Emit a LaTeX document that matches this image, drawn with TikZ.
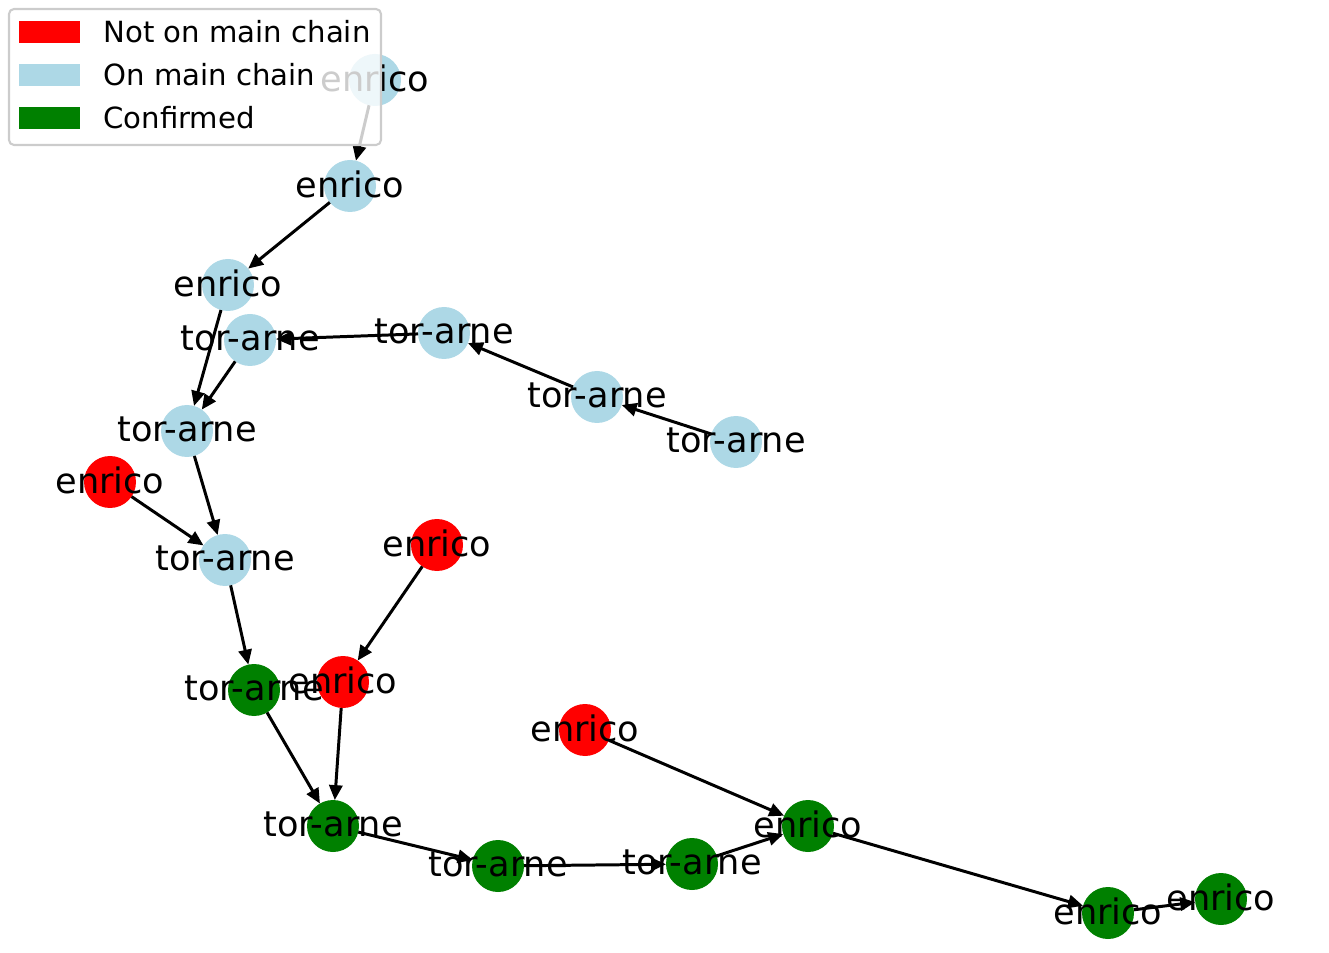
\documentclass[tikz,border=0pt]{standalone}
\usepackage{fontspec}
\setmainfont{DejaVu Sans}
\usetikzlibrary{arrows.meta}
\definecolor{chainblue}{HTML}{ADD8E6}
\definecolor{confgreen}{HTML}{008000}
\begin{document}
\begin{tikzpicture}[dot/.style={circle,minimum size=1.04cm,inner sep=0pt,outer sep=0pt},
  lbl/.style={inner sep=0pt,yshift=0.03cm,font=\fontsize{20pt}{23pt}\selectfont},
  edge/.style={line width=1.7pt,-{Triangle[length=8.5pt,width=7.5pt]}},
  key/.style={rectangle,minimum width=1.22cm,minimum height=0.44cm,inner sep=0pt},
  keytext/.style={anchor=west,inner sep=0pt,font=\fontsize{16.6pt}{19pt}\selectfont}]
  \useasboundingbox (0,0) rectangle (26.58,19.04);

  \node[dot,fill=chainblue] (e1) at (7.50, 17.44) {};
  \node[dot,fill=chainblue] (e2) at (7.00, 15.32) {};
  \node[dot,fill=chainblue] (e3) at (4.56, 13.34) {};
  \node[dot,fill=chainblue] (t4) at (5.00, 12.24) {};
  \node[dot,fill=chainblue] (t5) at (8.88, 12.38) {};
  \node[dot,fill=chainblue] (t6) at (11.94, 11.10) {};
  \node[dot,fill=chainblue] (t7) at (14.72, 10.20) {};
  \node[dot,fill=chainblue] (t8) at (3.74, 10.42) {};
  \node[dot,fill=red] (e9) at (2.20, 9.40) {};
  \node[dot,fill=chainblue] (t10) at (4.50, 7.84) {};
  \node[dot,fill=red] (e11) at (8.74, 8.14) {};
  \node[dot,fill=confgreen] (t12) at (5.08, 5.24) {};
  \node[dot,fill=red] (e13) at (6.86, 5.40) {};
  \node[dot,fill=red] (e14) at (11.70, 4.44) {};
  \node[dot,fill=confgreen] (t15) at (6.66, 2.52) {};
  \node[dot,fill=confgreen] (t16) at (9.96, 1.72) {};
  \node[dot,fill=confgreen] (t17) at (13.84, 1.76) {};
  \node[dot,fill=confgreen] (e18) at (16.16, 2.52) {};
  \node[dot,fill=confgreen] (e19) at (22.16, 0.78) {};
  \node[dot,fill=confgreen] (e20) at (24.42, 1.06) {};

  \draw[edge] (e1) -- (e2);
  \draw[edge] (e2) -- (e3);
  \draw[edge] (e3) -- (t8);
  \draw[edge] (t4) -- (t8);
  \draw[edge] (t5) -- (t4);
  \draw[edge] (t6) -- (t5);
  \draw[edge] (t7) -- (t6);
  \draw[edge] (t8) -- (t10);
  \draw[edge] (e9) -- (t10);
  \draw[edge] (t10) -- (t12);
  \draw[edge] (e11) -- (e13);
  \draw[edge] (t12) -- (t15);
  \draw[edge] (e13) -- (t15);
  \draw[edge] (t15) -- (t16);
  \draw[edge] (t16) -- (t17);
  \draw[edge] (t17) -- (e18);
  \draw[edge] (e14) -- (e18);
  \draw[edge] (e18) -- (e19);
  \draw[edge] (e19) -- (e20);

  \node[lbl] (le1) at (e1) {enrico};
  \node[lbl] (le2) at (e2) {enrico};
  \node[lbl] (le3) at (e3) {enrico};
  \node[lbl] (lt4) at (t4) {tor-arne};
  \node[lbl] (lt5) at (t5) {tor-arne};
  \node[lbl] (lt6) at (t6) {tor-arne};
  \node[lbl] (lt7) at (t7) {tor-arne};
  \node[lbl] (lt8) at (t8) {tor-arne};
  \node[lbl] (le9) at (e9) {enrico};
  \node[lbl] (lt10) at (t10) {tor-arne};
  \node[lbl] (le11) at (e11) {enrico};
  \node[lbl] (lt12) at (t12) {tor-arne};
  \node[lbl] (le13) at (e13) {enrico};
  \node[lbl] (le14) at (e14) {enrico};
  \node[lbl] (lt15) at (t15) {tor-arne};
  \node[lbl] (lt16) at (t16) {tor-arne};
  \node[lbl] (lt17) at (t17) {tor-arne};
  \node[lbl] (le18) at (e18) {enrico};
  \node[lbl] (le19) at (e19) {enrico};
  \node[lbl] (le20) at (e20) {enrico};

  % legend
  \draw[black!20,line width=1.2pt,rounded corners=0.1cm,fill=white,fill opacity=0.8]
    (0.18, 16.14) rectangle (7.62, 18.86);
  \node[key,fill=red] (k1) at (0.99, 18.40) {};
  \node[key,fill=chainblue] (k2) at (0.99, 17.54) {};
  \node[key,fill=confgreen] (k3) at (0.99, 16.68) {};
  \node[keytext] (kt1) at (2.06, 18.40) {Not on main chain};
  \node[keytext] (kt2) at (2.06, 17.54) {On main chain};
  \node[keytext] (kt3) at (2.06, 16.68) {Confirmed};
\end{tikzpicture}
\end{document}
